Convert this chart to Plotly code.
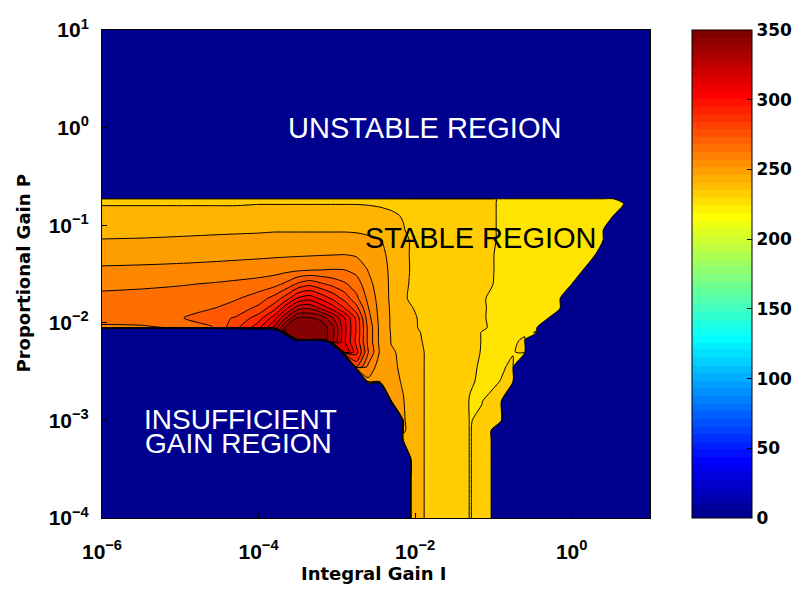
import plotly.graph_objects as go

# ---------------- data ----------------
# grid columns: log10 of Integral Gain I
log_I = [-6.0, -5.5, -5.0, -4.6, -4.3, -4.0, -3.8, -3.65, -3.5, -3.35,
         -3.2, -3.05, -2.9, -2.75, -2.6, -2.45, -2.3, -2.15, -2.05, -1.9,
         -1.7, -1.5, -1.3, -1.15, -1.03, -0.9, -0.75, -0.6, -0.45, -0.3,
         -0.15, 0.0, 0.15, 0.3, 0.4, 0.53, 0.66, 0.8, 1.0]

# grid rows: log10 of Proportional Gain P (top to bottom)
log_P_rows = [1.0, -0.70, -0.73, -0.78, -0.9, -1.05, -1.15, -1.3, -1.45, -1.6,
              -1.75, -1.85, -1.95, -2.05, -2.1, -2.17, -2.2, -2.3, -2.45, -2.6,
              -2.8, -3.0, -3.1, -3.2, -3.4, -3.6, -3.8, -4.0]

# performance value on the grid (0 = unstable / insufficient gain), rows top to bottom
Z_rows = [
    [0]*39,
    [0]*39,
    [237.5]*5 + [238]*9 + [238, 237.8, 237.5, 237, 236.5] + [236]*5 + [234, 230] + [229]*5 + [228.5]*5 + [0]*3,
    [239.5]*5 + [239.8]*9 + [239.6, 239.2, 238.5, 237.5, 237] + [236]*5 + [234, 230] + [229]*5 + [228.5]*6 + [0]*2,
    [242.5]*5 + [243.2]*8 + [243, 242.6, 242, 241, 239.5, 238, 236.5] + [236]*4 + [234, 230] + [229]*5 + [228.5]*5 + [0]*3,
    [246, 246.2, 246.5, 246.8, 247, 247.2] + [247.5]*7 + [247.3, 246.5, 245.5, 243.5, 240.5, 238, 237] + [236]*4 + [234, 230] + [229]*4 + [228.5]*5 + [0]*4,
    [248.2, 248.4, 248.8, 249.2, 249.5, 249.8] + [250]*7 + [249.8, 249.3, 248.3, 246, 242, 239.3, 237.5] + [236]*4 + [234, 230] + [229]*4 + [228.5]*5 + [0]*4,
    [252.5, 252.8, 253.2, 253.6, 254, 254.4, 254.7, 254.9, 255.1, 255.3, 255.5, 255.7, 255.9, 255, 252.5, 249.5, 246.5, 242, 239.3, 237.5, 236, 236, 235.5, 235, 232.8, 230] + [229]*4 + [228.5]*4 + [0]*5,
    [257, 257.3, 257.8, 258.4, 259, 259.7, 260.4, 261, 261.6, 262.2, 263, 263.8, 263.5, 261, 255.5, 251, 246.5, 242, 239.5, 237.5, 236.2, 235.8, 235.3, 234.5, 232.8, 230] + [229]*4 + [228.5]*3 + [0]*6,
    [262, 262.6, 263.4, 264.4, 265.5, 267, 269, 273.5, 281, 285, 281, 277, 273, 268, 258.5, 252, 246.5, 241.5, 239.3, 237.8, 236.5, 236, 235.5, 234.5, 232.5, 230] + [229]*4 + [228.5]*2 + [0]*7,
    [266, 266.5, 267.5, 269, 271, 276, 283, 292, 305, 309, 302, 294, 285, 274, 262, 252.5, 246.5, 240.7, 239.3, 238, 236.5, 236, 235.5, 232.8, 231, 230] + [229]*4 + [228.5] + [0]*8,
    [268, 268.3, 269.5, 271.5, 275.5, 282, 293, 310, 325, 327, 318, 308, 296, 283, 264.5, 253, 246.8, 242, 240.3, 238.5, 236.7, 236, 235.3, 233, 231, 230] + [229]*4 + [228.5] + [0]*8,
    [268, 268.5, 271.3, 277.5, 280.5, 292, 308, 328, 344.5, 345, 341, 328, 312, 294, 267, 253.5, 247, 242.5, 241, 239, 237, 236, 235, 232.8, 231, 230, 229.5, 229, 229, 229] + [0]*9,
    [262, 262.5, 265, 271, 285, 301, 321, 347, 352, 352.5, 350.5, 338, 314, 295, 270, 254, 247, 242.5, 241, 239.2, 237, 236, 235, 232.7, 231.5, 230.5, 230, 230, 231] + [0]*10,
    [0]*7 + [348, 352.5, 353, 351, 338, 314, 295, 270, 254, 247.3, 243, 241.5, 239.6, 237.3, 236, 234.5, 231.8, 231, 230.5, 230, 230.5, 232.5] + [0]*10,
    [0]*8 + [351, 352.5, 350, 337, 313, 294, 270, 254, 247.5, 243.2, 241.7, 239.8, 237.5, 236, 234.5, 231.8, 231, 230.5, 230.5, 233] + [0]*11,
    [0]*11 + [336, 313, 294, 270, 254, 247.5, 243.3, 241.8, 239.9, 237.5, 236, 234.3, 231.8, 231, 230.5, 231, 233.5] + [0]*11,
    [0]*12 + [320, 299, 272.5, 255, 249, 246, 243, 240.2, 237.5, 236, 234, 231.7, 230.8, 230.5, 231.5, 234] + [0]*11,
    [0]*13 + [282, 262, 252, 249.5, 246.5, 243.5, 240.2, 237.5, 236, 232.8, 231.5, 230.5, 231, 233.5] + [0]*12,
    [0]*14 + [254, 252, 250, 247.3, 244, 240.2, 237.5, 236, 232.5, 231.3, 230.5, 232.3, 234] + [0]*12,
    [0]*16 + [252, 248.3, 244.5, 240.2, 237.5, 236, 231.7, 231.8, 233.5, 234] + [0]*13,
    [0]*17 + [249, 244.5, 240.2, 237.5, 236, 231.8, 232.8, 234, 234] + [0]*13,
    [0]*17 + [249.5, 244.5, 240.2, 237.5, 236, 231.8, 233.5, 234] + [0]*14,
    [0]*17 + [245, 243.5, 240.2, 237.5, 236, 231.8, 233.5, 234] + [0]*14,
    [0]*18 + [243, 240.2, 237.5, 236, 231.8, 233.5, 234] + [0]*14,
    [0]*18 + [243, 240.2, 237.5, 236, 231.8, 233.5, 234] + [0]*14,
    [0]*18 + [243, 240.2, 237.5, 236, 231.8, 233.5, 234] + [0]*14,
    [0]*18 + [243, 240.2, 237.5, 236, 231.8, 233.5, 234] + [0]*14,
]

contour_start = 224
contour_step = 8
contour_end = 344
cbar_ticks = [0, 50, 100, 150, 200, 250, 300, 350]
x_tickvals = [1e-6, 1e-4, 1e-2, 1]
x_ticktext = ["10<sup>−6</sup>", "10<sup>−4</sup>", "10<sup>−2</sup>", "10<sup>0</sup>"]
y_tickvals = [1e-4, 1e-3, 1e-2, 1e-1, 1, 10]
y_ticktext = ["10<sup>−4</sup>", "10<sup>−3</sup>", "10<sup>−2</sup>",
              "10<sup>−1</sup>", "10<sup>0</sup>", "10<sup>1</sup>"]
ZMAX = 350

# ---------------- styling helpers ----------------
def clip(v):
    return max(0.0, min(1.0, v))

def jet_cont(f):
    r = clip(1.5 - abs(4 * f - 3))
    g = clip(1.5 - abs(4 * f - 2))
    b = clip(1.5 - abs(4 * f - 1))
    return "rgb(%d,%d,%d)" % (round(r * 255), round(g * 255), round(b * 255))

def matlab_jet64():
    n = 16
    u = [i / n for i in range(1, n + 1)] + [1.0] * (n - 1) + [i / n for i in range(n, 0, -1)]
    cmap = [[0.0, 0.0, 0.0] for _ in range(64)]
    for k, val in enumerate(u):
        gi = n // 2 + k + 1
        for ch, idx in ((0, gi + n), (1, gi), (2, gi - n)):
            if 1 <= idx <= 64:
                cmap[idx - 1][ch] = val
    return ["rgb(%d,%d,%d)" % tuple(round(c * 255) for c in col) for col in cmap]

jet64 = matlab_jet64()
BG = jet64[0]

# stepwise colorscale for the colorbar
cb_scale = []
for k, col in enumerate(jet64):
    cb_scale.append([k / 64, col])
    cb_scale.append([((k + 1) / 64 - 1e-9) if k < 63 else 1.0, col])

# contour fill colorscale: background (below first level) = dark blue, bands = jet of band midpoint
levels = list(range(contour_start, contour_end + 1, contour_step))
nc = len(levels)
cont_scale = [[0.0, BG]]
for i, lv in enumerate(levels):
    cont_scale.append([(i + 1) / nc, jet_cont((lv + contour_step / 2) / ZMAX)])

# ---------------- build figure ----------------
x_vals = [10 ** v for v in log_I]
y_vals = [10 ** v for v in reversed(log_P_rows)]
z_vals = [row for row in reversed(Z_rows)]

L, R, T, B = 102, 650, 30, 518
W_PLOT, H_PLOT = R - L, B - T

fig = go.Figure()

# invisible heatmap only to carry the continuous colorbar
fig.add_trace(go.Heatmap(
    x=x_vals, y=y_vals, z=z_vals, zmin=0, zmax=ZMAX, colorscale=cb_scale,
    opacity=0, hoverinfo="skip", showscale=True,
    colorbar=dict(
        x=(692 - L) / W_PLOT, xanchor="left", xpad=0, ypad=0,
        y=0.5, yanchor="middle", len=1, lenmode="fraction",
        thickness=60, thicknessmode="pixels",
        outlinewidth=1, outlinecolor="black",
        tickmode="array", tickvals=cbar_ticks,
        ticks="inside", ticklen=5, tickcolor="black",
        tickfont=dict(family="DejaVu Sans", size=17, color="black", weight="bold"),
    ),
))

fig.add_trace(go.Contour(
    x=x_vals, y=y_vals, z=z_vals,
    autocontour=False,
    contours=dict(start=contour_start, end=contour_end, size=contour_step,
                  coloring="fill", showlines=True),
    colorscale=cont_scale,
    line=dict(color="black", width=1, smoothing=0.7),
    showscale=False, hoverinfo="skip",
))

text_font = "Liberation Sans, Arial, sans-serif"
def px_x(p):
    return (p - L) / W_PLOT
def px_y(p):
    return (B - p) / H_PLOT

def label(text, cx, cy, size, color, family=text_font, weight="normal", angle=0):
    fig.add_annotation(text=text, x=px_x(cx), y=px_y(cy), xref="paper", yref="paper",
                       xanchor="center", yanchor="middle", showarrow=False, textangle=angle,
                       font=dict(family=family, size=size, color=color, weight=weight))

label("UNSTABLE REGION", 424, 128, 29, "white")
label("STABLE REGION", 480.5, 237.5, 29, "black")
label("INSUFFICIENT", 240, 419, 28, "white")
label("GAIN REGION", 238, 443, 28, "white")
label("Integral Gain I", 374, 573, 18, "black", family="DejaVu Sans", weight="bold")
label("Proportional Gain P", 22.5, 274, 18, "black", family="DejaVu Sans", weight="bold", angle=-90)

axis_common = dict(
    type="log", showgrid=False, zeroline=False, automargin=False,
    showline=True, mirror=True, linecolor="black", linewidth=1,
    ticks="inside", ticklen=5, tickcolor="black",
    tickmode="array",
    tickfont=dict(family="Liberation Sans, Arial", size=21, color="black", weight="bold"),
)
fig.update_xaxes(range=[-6, 1], tickvals=x_tickvals, ticktext=x_ticktext,
                 ticklabelstandoff=15, **axis_common)
fig.update_yaxes(range=[-4, 1], tickvals=y_tickvals, ticktext=y_ticktext,
                 ticklabelstandoff=8, **axis_common)

fig.update_layout(
    width=802, height=592,
    margin=dict(l=L, r=802 - R, t=T, b=592 - B, autoexpand=False),
    paper_bgcolor="white", plot_bgcolor=BG,
    showlegend=False,
    font=dict(family="DejaVu Sans", color="black"),
)

fig.write_html("out.html", config={"displayModeBar": False},
               post_script="document.body.style.margin='0px';")
